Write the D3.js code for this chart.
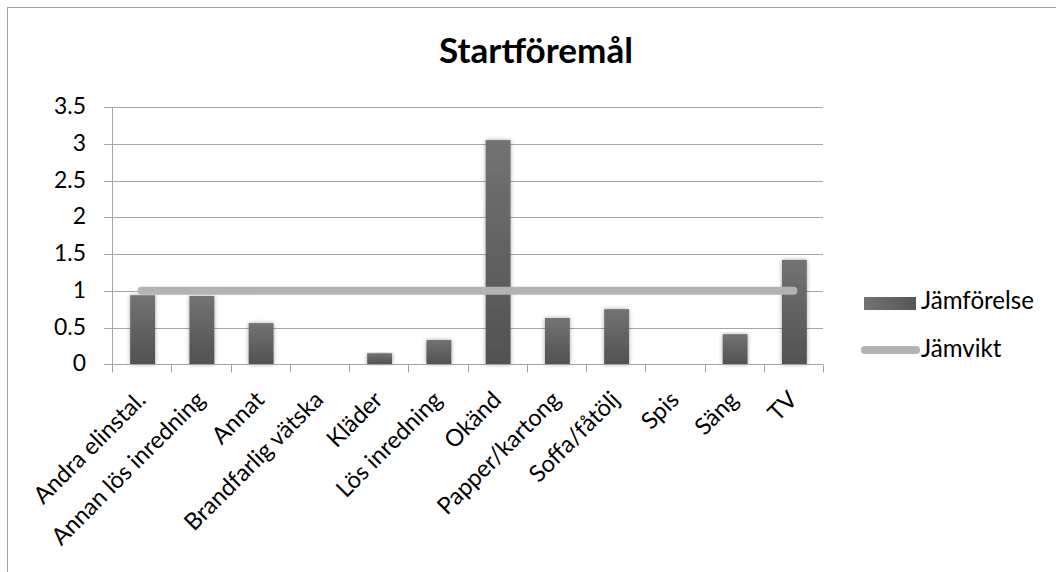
<!DOCTYPE html>
<html><head><meta charset="utf-8">
<script src="https://cdn.jsdelivr.net/npm/d3@7"></script>
<style>body{margin:0;background:#fff}svg{display:block}text{font-family:Lato,"Open Sans",sans-serif}</style>
</head><body>
<svg id="c" width="1056" height="572"></svg>
<script>
const categories = ["Andra elinstal.","Annan lös inredning","Annat","Brandfarlig vätska","Kläder","Lös inredning","Okänd","Papper/kartong","Soffa/fåtölj","Spis","Säng","TV"];
const jamforelse = [0.94,0.93,0.56,0,0.15,0.33,3.05,0.63,0.75,0,0.41,1.42];
const jamvikt = [1,1,1,1,1,1,1,1,1,1,1,1];
const yTicks = [0,0.5,1,1.5,2,2.5,3,3.5];
const title = "Startföremål";
const seriesNames = ["Jämförelse","Jämvikt"];

const svg = d3.select("#c");
// font size fitted to target text width
function fit(str, target, weight){
  const t = svg.append("text").attr("font-size",100).attr("font-weight",weight||"normal").text(str);
  const w = t.node().getComputedTextLength(); t.remove();
  return 100*target/w;
}
const fsTick = fit("3.5",32);
const fsCat = fit("Andra elinstal.",147);
const fsTitle = fit(title,194,"bold");
const fsLeg = fit("Jämförelse",113);

const defs = svg.append("defs");
const grad = defs.append("linearGradient").attr("id","bg").attr("x1",0).attr("y1",0).attr("x2",0).attr("y2",1);
grad.append("stop").attr("offset","0%").attr("stop-color","#737373");
grad.append("stop").attr("offset","100%").attr("stop-color","#515151");
const lg = defs.append("linearGradient").attr("id","lgb").attr("x1",0).attr("y1",0).attr("x2",1).attr("y2",0);
lg.append("stop").attr("offset","0%").attr("stop-color","#737373");
lg.append("stop").attr("offset","100%").attr("stop-color","#575757");
const f = defs.append("filter").attr("id","sh").attr("x","-30%").attr("y","-10%").attr("width","160%").attr("height","120%");
f.append("feDropShadow").attr("dx",0).attr("dy",0).attr("stdDeviation",2).attr("flood-color","#000").attr("flood-opacity",0.35);

svg.append("rect").attr("x",7.5).attr("y",7.5).attr("width",1100).attr("height",700).attr("fill","#fff").attr("stroke","#a0a0a0");

const L=112, R=823, T=107, B=364.3;
const x = d3.scaleBand().domain(categories).range([L,R]).paddingInner(0).paddingOuter(0);
const y = d3.scaleLinear().domain([0,3.5]).range([B,T]);

// gridlines
svg.append("g").selectAll("line").data(yTicks).join("line")
  .attr("x1",L-8).attr("x2",R).attr("y1",d=>Math.round(y(d))+0.5).attr("y2",d=>Math.round(y(d))+0.5)
  .attr("stroke","#a6a6a6").attr("stroke-width",1);
// y axis line
svg.append("line").attr("x1",L+0.5).attr("x2",L+0.5).attr("y1",T).attr("y2",B).attr("stroke","#a6a6a6");
// y labels
svg.append("g").selectAll("text").data(yTicks).join("text")
  .attr("x",L-26).attr("y",d=>y(d)-1).attr("dy","0.35em").attr("text-anchor","end")
  .attr("font-size",fsTick).attr("fill","#000").text(d=>d);

// bars
const bw = x.bandwidth()*0.42;
svg.append("g").selectAll("rect").data(jamforelse).join("rect")
  .attr("x",(d,i)=>x(categories[i])+x.bandwidth()/2-bw/2+1)
  .attr("width",bw)
  .attr("y",d=>y(d)).attr("height",d=>B-y(d))
  .attr("fill","url(#bg)").attr("filter",d=>d>0?"url(#sh)":null)
  .style("display",d=>d>0?null:"none");

// x axis
const ax = Math.round(B)+0.5;
svg.append("line").attr("x1",L-8).attr("x2",R).attr("y1",ax).attr("y2",ax).attr("stroke","#a6a6a6");
const bounds = categories.map(c=>x(c)).concat([R]);
svg.append("g").selectAll("line").data(bounds).join("line")
  .attr("x1",d=>Math.round(d)+0.5).attr("x2",d=>Math.round(d)+0.5).attr("y1",ax).attr("y2",ax+8)
  .attr("stroke","#a6a6a6");

// x labels
svg.append("g").selectAll("text").data(categories).join("text")
  .attr("transform",d=>`translate(${x(d)+x.bandwidth()/2+5.5},${B+37}) rotate(-45)`)
  .attr("text-anchor","end").attr("font-size",fsCat).attr("fill","#000").text(d=>d);

// line
const line = d3.line().x((d,i)=>x(categories[i])+x.bandwidth()/2).y(d=>y(d));
svg.append("path").datum(jamvikt).attr("d",line).attr("fill","none")
  .attr("stroke","#b3b3b3").attr("stroke-width",8).attr("stroke-linecap","round");

// title
svg.append("text").attr("x",536).attr("y",63).attr("text-anchor","middle")
  .attr("font-size",fsTitle).attr("font-weight","bold").attr("fill","#000").text(title);

// legend
svg.append("rect").attr("x",864).attr("y",297).attr("width",52).attr("height",13).attr("fill","url(#lgb)");
svg.append("text").attr("x",921).attr("y",309).attr("font-size",fsLeg).text(seriesNames[0]);
svg.append("line").attr("x1",865).attr("x2",916).attr("y1",350).attr("y2",350)
  .attr("stroke","#b3b3b3").attr("stroke-width",8).attr("stroke-linecap","round");
svg.append("text").attr("x",921).attr("y",357).attr("font-size",fsLeg).text(seriesNames[1]);
</script>
</body></html>
